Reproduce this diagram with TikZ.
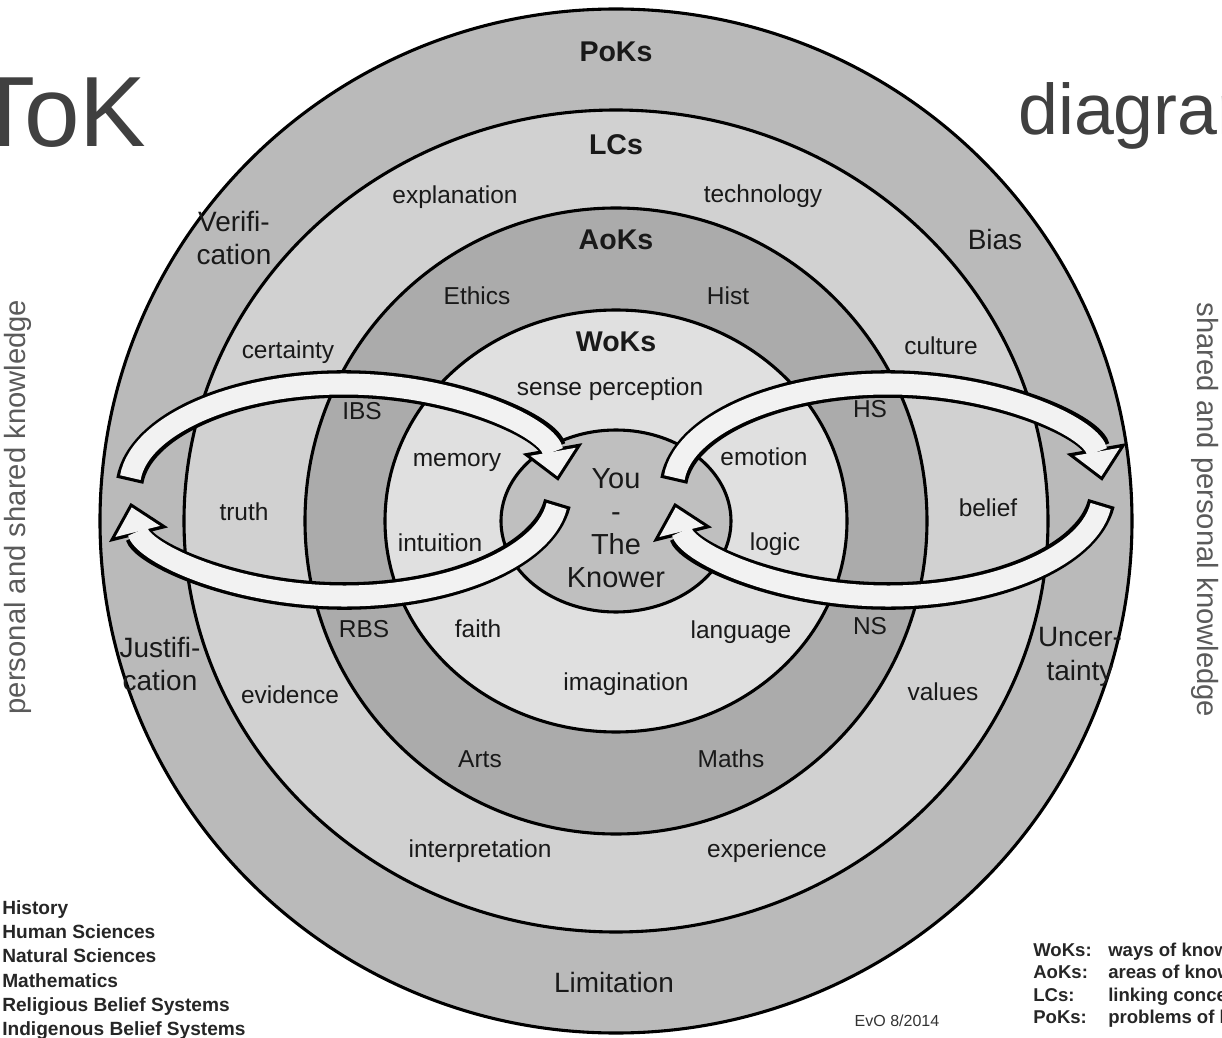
\documentclass[tikz,border=0pt]{standalone}
\usepackage{fontspec}
\setmainfont{Liberation Sans}
\usetikzlibrary{arrows.meta}
\definecolor{PoKGray}{gray}{0.73}
\definecolor{LCGray}{gray}{0.82}
\definecolor{AoKGray}{gray}{0.67}
\definecolor{WoKGray}{gray}{0.88}
\definecolor{YouGray}{gray}{0.75}
\definecolor{BandWhite}{gray}{0.95}
\definecolor{TitleGray}{HTML}{404040}
\definecolor{SideGray}{HTML}{5A5A5A}
\tikzset{
  ring/.style={draw=black, line width=2.2pt},
  bandedge/.style={draw=black, line width=0.69cm, -{Triangle[length=0.82cm, width=1.52cm, line width=0pt]}},
  bandfill/.style={draw=BandWhite, line width=0.525cm, shorten <=0.08cm, shorten >=0.115cm, -{Triangle[length=0.62cm, width=1.15cm, line width=0pt]}},
  word/.style={inner sep=0pt, text=black!90, font=\fontsize{17.4pt}{20pt}\selectfont, text height=12.5pt, text depth=3.7pt},
  ringtitle/.style={inner sep=0pt, text=black!90, font=\fontsize{20.3pt}{24pt}\selectfont\bfseries},
  pokword/.style={inner sep=0pt, text=black!90, align=center, font=\fontsize{19.9pt}{24pt}\selectfont},
  knower/.style={inner sep=0pt, text=black!90, align=center, font=\fontsize{20.6pt}{23.5pt}\selectfont},
  title/.style={inner sep=0pt, text=TitleGray},
  side/.style={inner sep=0pt, text=SideGray, font=\fontsize{20.8pt}{24pt}\selectfont},
  legend/.style={inner sep=0pt, text=black!85, font=\fontsize{13.6pt}{16pt}\selectfont\bfseries},
  stamp/.style={inner sep=0pt, text=black!80, font=\fontsize{11.4pt}{13pt}\selectfont}
}
\begin{document}
\begin{tikzpicture}[x=0.025cm, y=0.025cm]
\useasboundingbox (-616,-517) rectangle (606,521);
\clip (-616,-517) rectangle (606,521);

% rings, outside in
\draw[ring, fill=PoKGray] (0,0) ellipse[x radius=516, y radius=512];
\draw[ring, fill=LCGray] (0,0) ellipse[x radius=432, y radius=411];
\draw[ring, fill=AoKGray] (0,0) ellipse[x radius=311, y radius=313];
\draw[ring, fill=WoKGray] (0,0) ellipse[x radius=231, y radius=211];
\draw[ring, fill=YouGray] (0,0) ellipse[x radius=115, y radius=91];

% the two loops of arrows
\coordinate (lloop) at (-272,31);
\coordinate (rloop) at (272,31);
\foreach \pass in {bandedge,bandfill}
  \foreach \c in {lloop,rloop} {
    \draw[\pass] (\c) ++(175:215 and 106) arc[start angle=175, end angle=5, x radius=215, y radius=106];
    \draw[\pass] (\c) ++(-7:215 and 106) arc[start angle=-7, end angle=-173, x radius=215, y radius=106];
  }

% ring titles
\node[ringtitle] (poks) at (0,469) {PoKs};
\node[ringtitle] (lcs) at (0,376) {LCs};
\node[ringtitle] (aoks) at (0,281) {AoKs};
\node[ringtitle] (woks) at (0,179) {WoKs};

% problems of knowledge
\node[pokword] (verif) at (-382,283) {Verifi-\\cation};
\node[pokword] (bias) at (379,281) {Bias};
\node[pokword] (justif) at (-456,-143) {Justifi-\\cation};
\node[pokword] (uncert) at (464,-136) {Uncer-\\tainty};
\node[pokword] (limit) at (-2,-461) {Limitation};

% linking concepts
\node[word] (explan) at (-161,324) {explanation};
\node[word] (techn) at (147,325) {technology};
\node[word] (certain) at (-328,169) {certainty};
\node[word] (culture) at (325,173) {culture};
\node[word] (truth) at (-372,7) {truth};
\node[word] (belief) at (372,11) {belief};
\node[word] (evid) at (-326,-176) {evidence};
\node[word] (values) at (327,-173) {values};
\node[word] (interp) at (-136,-330) {interpretation};
\node[word] (exper) at (151,-330) {experience};

% areas of knowledge
\node[word] (ethics) at (-139,223) {Ethics};
\node[word] (hist) at (112,223) {Hist};
\node[word] (ibs) at (-254,108) {IBS};
\node[word] (hs) at (254,110) {HS};
\node[word] (rbs) at (-252,-110) {RBS};
\node[word] (ns) at (254,-107) {NS};
\node[word] (arts) at (-136,-240) {Arts};
\node[word] (maths) at (115,-240) {Maths};

% ways of knowing
\node[word] (sense) at (-6,132) {sense perception};
\node[word] (memory) at (-159,61) {memory};
\node[word] (emotion) at (148,62) {emotion};
\node[word] (intuit) at (-176,-24) {intuition};
\node[word] (logic) at (159,-23) {logic};
\node[word] (faith) at (-138,-110) {faith};
\node[word] (lang) at (125,-111) {language};
\node[word] (imagin) at (10,-163) {imagination};

\node[knower] (you) at (0,-7) {You\\-\\The\\Knower};

% title and side texts
\node[title, anchor=base west, font=\fontsize{71pt}{80pt}\selectfont] (tok) at (-642,374) {ToK};
\node[title, anchor=base west, font=\fontsize{51pt}{60pt}\selectfont] (diagram) at (402,386) {diagram};
\node[side, rotate=90] (personal) at (-598,14) {personal and shared knowledge};
\node[side, rotate=-90] (shared) at (589,11) {shared and personal knowledge};

% legends
\foreach \aok [count=\i] in {History, Human Sciences, Natural Sciences, Mathematics, Religious Belief Systems, Indigenous Belief Systems}
  \node[legend, anchor=base west] (aok\i) at (-614,{-393.5-24.2*(\i-1)}) {\aok};
\foreach \abbr/\longname [count=\i] in {WoKs:/ways of knowing, AoKs:/areas of knowledge, LCs:/linking concepts, PoKs:/problems of knowledge} {
  \node[legend, anchor=base west, font=\fontsize{13.2pt}{16pt}\selectfont\bfseries] (abbr\i) at (417,{-435.5-22.3*(\i-1)}) {\abbr};
  \node[legend, anchor=base west, font=\fontsize{13.2pt}{16pt}\selectfont\bfseries] (long\i) at (492,{-435.5-22.3*(\i-1)}) {\longname};
}
\node[stamp] (evo) at (281,-500) {EvO 8/2014};
\end{tikzpicture}
\end{document}
